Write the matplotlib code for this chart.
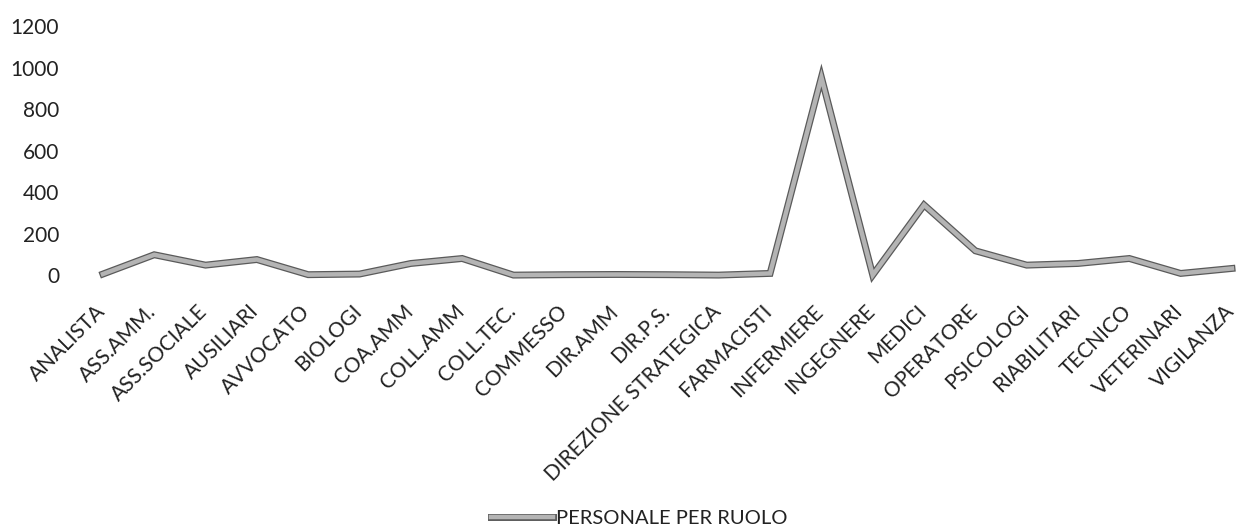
import matplotlib.pyplot as plt
import matplotlib.patheffects as pe
from matplotlib.transforms import ScaledTranslation

ruoli = ["ANALISTA", "ASS.AMM.", "ASS.SOCIALE", "AUSILIARI", "AVVOCATO", "BIOLOGI",
         "COA.AMM", "COLL.AMM", "COLL.TEC.", "COMMESSO", "DIR.AMM", "DIR.P.S.",
         "DIREZIONE STRATEGICA", "FARMACISTI", "INFERMIERE", "INGEGNERE", "MEDICI",
         "OPERATORE", "PSICOLOGI", "RIABILITARI", "TECNICO", "VETERINARI", "VIGILANZA"]
personale = [5, 98, 48, 75, 2, 5, 56, 80, 0, 2, 3, 2, 0, 8, 953, 0, 338, 117, 48,
             56, 80, 8, 32]
y_ticks = [0, 200, 400, 600, 800, 1000, 1200]

plt.rcParams['font.family'] = ['Lato', 'DejaVu Sans']

fig = plt.figure(figsize=(12.36, 5.27), dpi=100)
ax = fig.add_axes([0.0625, 0.478, 0.955, 0.4725])

x = list(range(len(ruoli)))
ax.plot(x, personale, color='#b4b4b4', linewidth=3.2, solid_joinstyle='miter',
        label='PERSONALE PER RUOLO', clip_on=False,
        path_effects=[pe.Stroke(linewidth=5, foreground='#5a5a5a'), pe.Normal()])

ax.set_xlim(-0.5, len(ruoli) - 0.5)
ax.set_ylim(0, 1200)
ax.set_yticks(y_ticks)
ax.set_xticks(x)
ax.set_xticklabels(ruoli, rotation=45, ha='right', rotation_mode='anchor')
ax.tick_params(axis='y', length=0, labelsize=15, colors='#222222', pad=13)
ax.tick_params(axis='x', length=0, labelsize=15, colors='#222222', pad=8)
for s in ax.spines.values():
    s.set_visible(False)

# nudge the slanted category labels left and down
shift = ScaledTranslation(-8 / 100, -15 / 100, fig.dpi_scale_trans)
for lbl in ax.get_xticklabels():
    lbl.set_transform(lbl.get_transform() + shift)

fig.legend(loc='center', bbox_to_anchor=(0.517, 0.017), frameon=False,
           fontsize=14.5, handlelength=3.1, handletextpad=0.15,
           labelcolor='#222222')

fig.savefig('out.png', dpi=100)
